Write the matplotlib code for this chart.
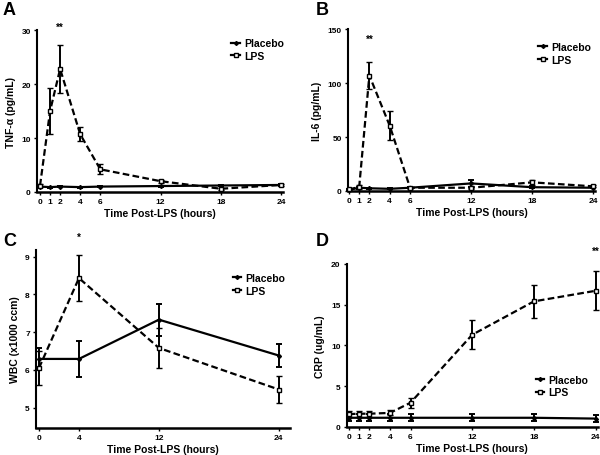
import matplotlib
matplotlib.use("Agg")
import matplotlib.pyplot as plt
from matplotlib.lines import Line2D

plt.rcParams['font.family'] = ['Liberation Sans', 'DejaVu Sans']
plt.rcParams['font.weight'] = 'bold'

# time points
t_long = [0, 1, 2, 4, 6, 12, 18, 24]
t_wbc = [0, 4, 12, 24]

# A: TNF-alpha (pg/mL)
tnf_pla = [1.0, 0.9, 1.0, 0.9, 1.0, 1.1, 1.2, 1.3]
tnf_pla_err = [0.2, 0.1, 0.1, 0.1, 0.1, 0.1, 0.1, 0.1]
tnf_lps = [1.2, 15.0, 22.8, 10.7, 4.2, 2.0, 0.6, 1.3]
tnf_lps_err = [0.3, 4.3, 4.5, 1.3, 0.9, 0.3, 0.2, 0.2]

# B: IL-6 (pg/mL)
il6_pla = [1.0, 3.0, 2.5, 2.0, 3.0, 7.0, 3.5, 3.0]
il6_pla_err = [0.5, 1.0, 0.5, 0.5, 0.5, 3.5, 1.0, 0.5]
il6_lps = [1.5, 3.7, 107.0, 60.5, 3.0, 3.0, 8.0, 4.3]
il6_lps_err = [0.5, 1.5, 12.5, 13.5, 1.0, 1.5, 2.0, 1.0]

# C: WBC (x1000 ccm)
wbc_pla = [6.29, 6.29, 7.33, 6.38]
wbc_pla_err = [0.30, 0.47, 0.42, 0.30]
wbc_lps = [6.05, 8.43, 6.58, 5.48]
wbc_lps_err = [0.45, 0.61, 0.52, 0.35]

# D: CRP (ug/mL)
crp_pla = [1.1, 1.1, 1.1, 1.1, 1.1, 1.1, 1.1, 1.0]
crp_pla_err = [0.45, 0.45, 0.45, 0.45, 0.45, 0.45, 0.45, 0.45]
crp_lps = [1.55, 1.6, 1.6, 1.7, 2.95, 11.3, 15.4, 16.7]
crp_lps_err = [0.4, 0.35, 0.35, 0.3, 0.6, 1.8, 2.0, 2.4]

fig = plt.figure(figsize=(6, 4.56), dpi=100)

pla_style = dict(color='black', lw=1.6, marker='D', ms=2, mfc='black')
lps_style = dict(color='black', lw=1.6, ls=(0, (3, 1.5)), marker='s', ms=3.2,
                 mfc='white', mec='black', mew=1)


def panel(rect, x, pla, pla_err, lps, lps_err, xlim, ylim, yticks, ylabel,
          letter, letter_xy, star, star_xy, leg_xy):
    ax = fig.add_axes(rect)
    ax.errorbar(x, pla, yerr=pla_err, elinewidth=1.4, capsize=2, capthick=1.4,
                clip_on=False, zorder=3, **pla_style)
    ax.errorbar(x, lps, yerr=lps_err, elinewidth=1.4, capsize=2, capthick=1.4,
                clip_on=False, zorder=4, **lps_style)
    ax.set_xlim(*xlim)
    ax.set_ylim(*ylim)
    ax.set_xticks(x)
    ax.set_yticks(yticks)
    ax.spines['top'].set_visible(False)
    ax.spines['right'].set_visible(False)
    ax.spines['left'].set_linewidth(1.5)
    ax.spines['bottom'].set_linewidth(1.8)
    ax.tick_params(labelsize=6, length=2.5, width=1, pad=2)
    for lbl in ax.get_xticklabels() + ax.get_yticklabels():
        lbl.set_fontweight('bold')
    ax.set_xlabel('Time Post-LPS (hours)', fontsize=7.5, fontweight='bold',
                  labelpad=2)
    ax.set_ylabel(ylabel, fontsize=7.5, fontweight='bold', labelpad=4)
    ax.text(star_xy[0], star_xy[1], star, ha='center', va='center',
            fontsize=7, fontweight='bold', clip_on=False)
    fig.text(letter_xy[0], letter_xy[1], letter, fontsize=13,
             fontweight='bold', ha='left', va='top')
    handles = [Line2D([], [], **pla_style),
               Line2D([], [], **dict(lps_style, ls='-'))]
    ax.legend(handles, ['Placebo', 'LPS'], loc='upper left',
              bbox_to_anchor=leg_xy, frameon=False, handlelength=0.8,
              handletextpad=0.4, labelspacing=0.25, borderpad=0,
              borderaxespad=0, prop={'weight': 'bold', 'size': 7.5})
    return ax


panel([0.0617, 0.5768, 0.41, 0.355], t_long, tnf_pla, tnf_pla_err,
      tnf_lps, tnf_lps_err, (-0.3, 24.2), (0, 30), [0, 10, 20, 30],
      'TNF-α (pg/mL)', 'A', (0.005, 0.995), '**', (2, 30.6), (0.79, 0.95))

panel([0.58, 0.579, 0.412, 0.355], t_long, il6_pla, il6_pla_err,
      il6_lps, il6_lps_err, (-0.1, 24.2), (0, 150), [0, 50, 100, 150],
      'IL-6 (pg/mL)', 'B', (0.527, 0.995), '**', (2, 141), (0.77, 0.92))

panel([0.06, 0.06, 0.423, 0.39], t_wbc, wbc_pla, wbc_pla_err,
      wbc_lps, wbc_lps_err, (-0.3, 25.1), (4.47, 9.18), [5, 6, 7, 8, 9],
      'WBC (x1000 ccm)', 'C', (0.005, 0.49), '*', (4, 9.53), (0.775, 0.87))

panel([0.578, 0.062, 0.418, 0.357], t_long, crp_pla, crp_pla_err,
      crp_lps, crp_lps_err, (-0.2, 24.2), (0, 20), [0, 5, 10, 15, 20],
      'CRP (ug/mL)', 'D', (0.527, 0.49), '**', (24, 21.6), (0.755, 0.32))

fig.savefig('out.png', dpi=100)
